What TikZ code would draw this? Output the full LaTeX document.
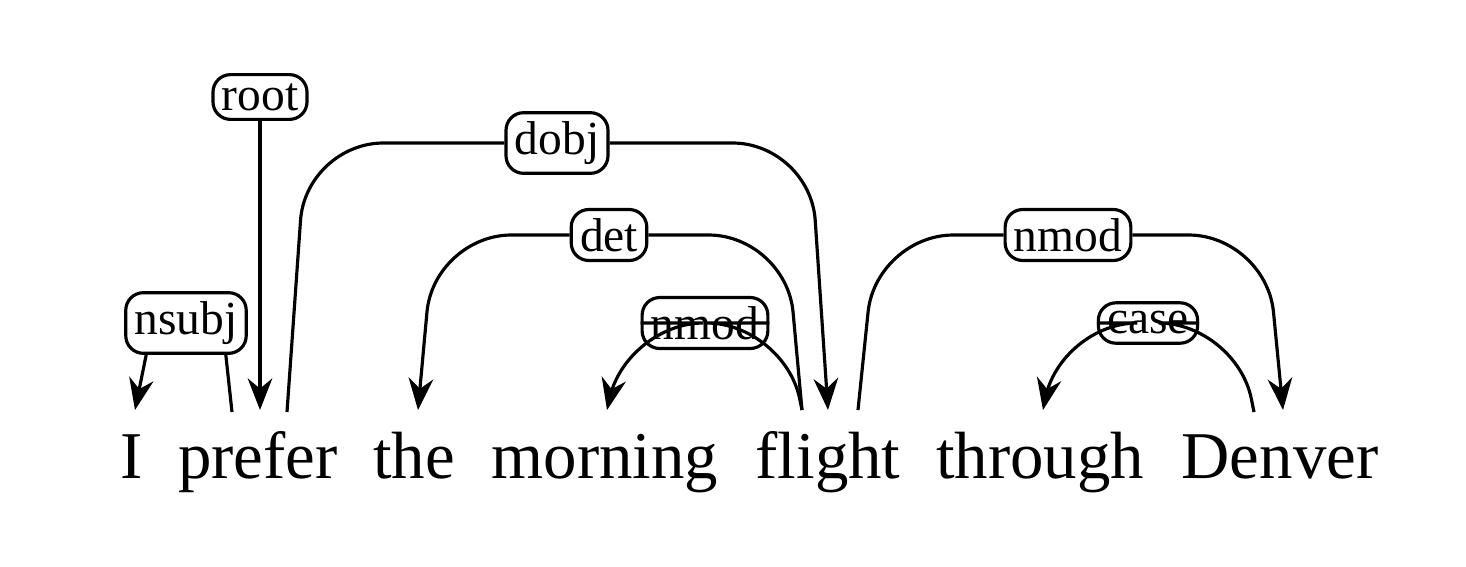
\documentclass[tikz,border=0pt]{standalone}
\usepackage{fontspec}
\setmainfont{Liberation Serif}
\usetikzlibrary{arrows.meta}
\begin{document}
\begin{tikzpicture}[x=0.01cm,y=-0.01cm]
    \tikzset{word/.style={anchor=base,inner sep=0pt,font=\fontsize{19}{22}\selectfont},
             rel/.style={draw,rounded corners=5pt,inner sep=2.5pt,line width=0.9pt,fill=white,font=\fontsize{13.5}{16}\selectfont},
             arc/.style={line width=0.9pt,rounded corners=22pt},
             head/.style={-{Stealth[length=9pt,width=7pt]}}}
    \useasboundingbox (0,0) rectangle (1466,566);

    % sentence
    \node[word] (w1) at (132,478) {I};
    \node[word] (w2) at (258,478) {prefer};
    \node[word] (w3) at (414,478) {the};
    \node[word] (w4) at (605,478) {morning};
    \node[word] (w5) at (828,478) {flight};
    \node[word] (w6) at (1040,478) {through};
    \node[word] (w7) at (1280,478) {Denver};

    % attachment points
    \coordinate (i1) at (135,410);
    \coordinate (p1) at (232,412);
    \coordinate (p0) at (260,410);
    \coordinate (p2) at (287,412);
    \coordinate (t1) at (418,410);
    \coordinate (m1) at (607,410);
    \coordinate (f1) at (802,410);
    \coordinate (f2) at (828,410);
    \coordinate (f3) at (858,410);
    \coordinate (th1) at (1043,410);
    \coordinate (d1) at (1254,412);
    \coordinate (d2) at (1283,410);

    % relations
    \node[rel] (lroot) at (260,97) {root};
    \node[rel] (ldobj) at (557,143) {dobj};
    \node[rel] (ldet) at (609,235) {det};
    \node[rel] (lnmodA) at (705,323) {nmod};
    \node[rel] (lnmodB) at (1068,235) {nmod};
    \node[rel] (lcase) at (1148,323) {case};
    \node[rel] (lnsubj) at (186,323) {nsubj};

    \begin{scope}[every path/.style={arc}]
        \draw[head] (lroot) -- (p0);
        \draw[head] (lnsubj.south west) ++(22,0) -- (i1);
        \draw (lnsubj.south east) ++(-22,0) -- (p1);
        \draw (p2) -- (306,143) -- (ldobj.west);
        \draw[head] (ldobj.east) -- (810,143) -- (f2);
        \draw (f1) -- (786,235) -- (ldet.east);
        \draw[head] (ldet.west) -- (434,235) -- (t1);
        \draw (f1) -- (784,323) -- (lnmodA.east);
        \draw[head] (lnmodA.west) -- (626,323) -- (m1);
        \draw (f3) -- (876,235) -- (lnmodB.west);
        \draw[head] (lnmodB.east) -- (1266,235) -- (d2);
        \draw (d1) -- (1236,323) -- (lcase.east);
        \draw[head] (lcase.west) -- (1060,323) -- (th1);
    \end{scope}
\end{tikzpicture}
\end{document}
